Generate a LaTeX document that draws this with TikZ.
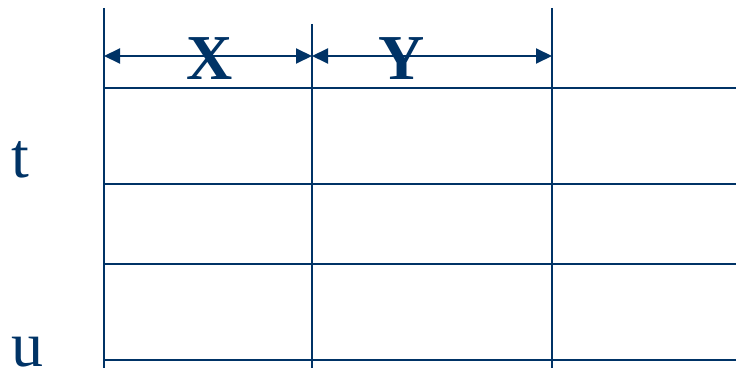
\documentclass[tikz,border=0pt]{standalone}
\usepackage{fontspec}
\setmainfont{Liberation Serif}
\usetikzlibrary{arrows.meta}
\definecolor{navy}{RGB}{0,51,102}
\begin{document}
\begin{tikzpicture}[x=1pt,y=-1pt,>={Triangle[length=16pt,width=15pt]},line join=round,line width=2pt,navy,
	lbl/.style={anchor=base,inner sep=0pt,font=\fontsize{64}{64}\selectfont}]
	\useasboundingbox (0,0) rectangle (736,369);
	\path (104,8) coordinate (P) (312,24) coordinate (Q) (552,8) coordinate (R)
		(104,56) coordinate (P1) (312,56) coordinate (Q1) (552,56) coordinate (R1);
	\foreach \c in {P,Q,R}{\draw (\c) -- (\c|-0,368);}
	\foreach \y in {88,184,264,360}{\draw (104,\y) -- (736,\y);}
	\draw[<->] (P1) -- (Q1);
	\draw[<->] (Q1) -- (R1);
	\node[lbl,font=\fontsize{64}{64}\selectfont\bfseries] (x) at (210,79) {X};
	\node[lbl,font=\fontsize{64}{64}\selectfont\bfseries] (y) at (401.5,79) {Y};
	\node[lbl] (t) at (20,177) {t};
	\node[lbl] (u) at (27.5,366) {u};
\end{tikzpicture}
\end{document}
